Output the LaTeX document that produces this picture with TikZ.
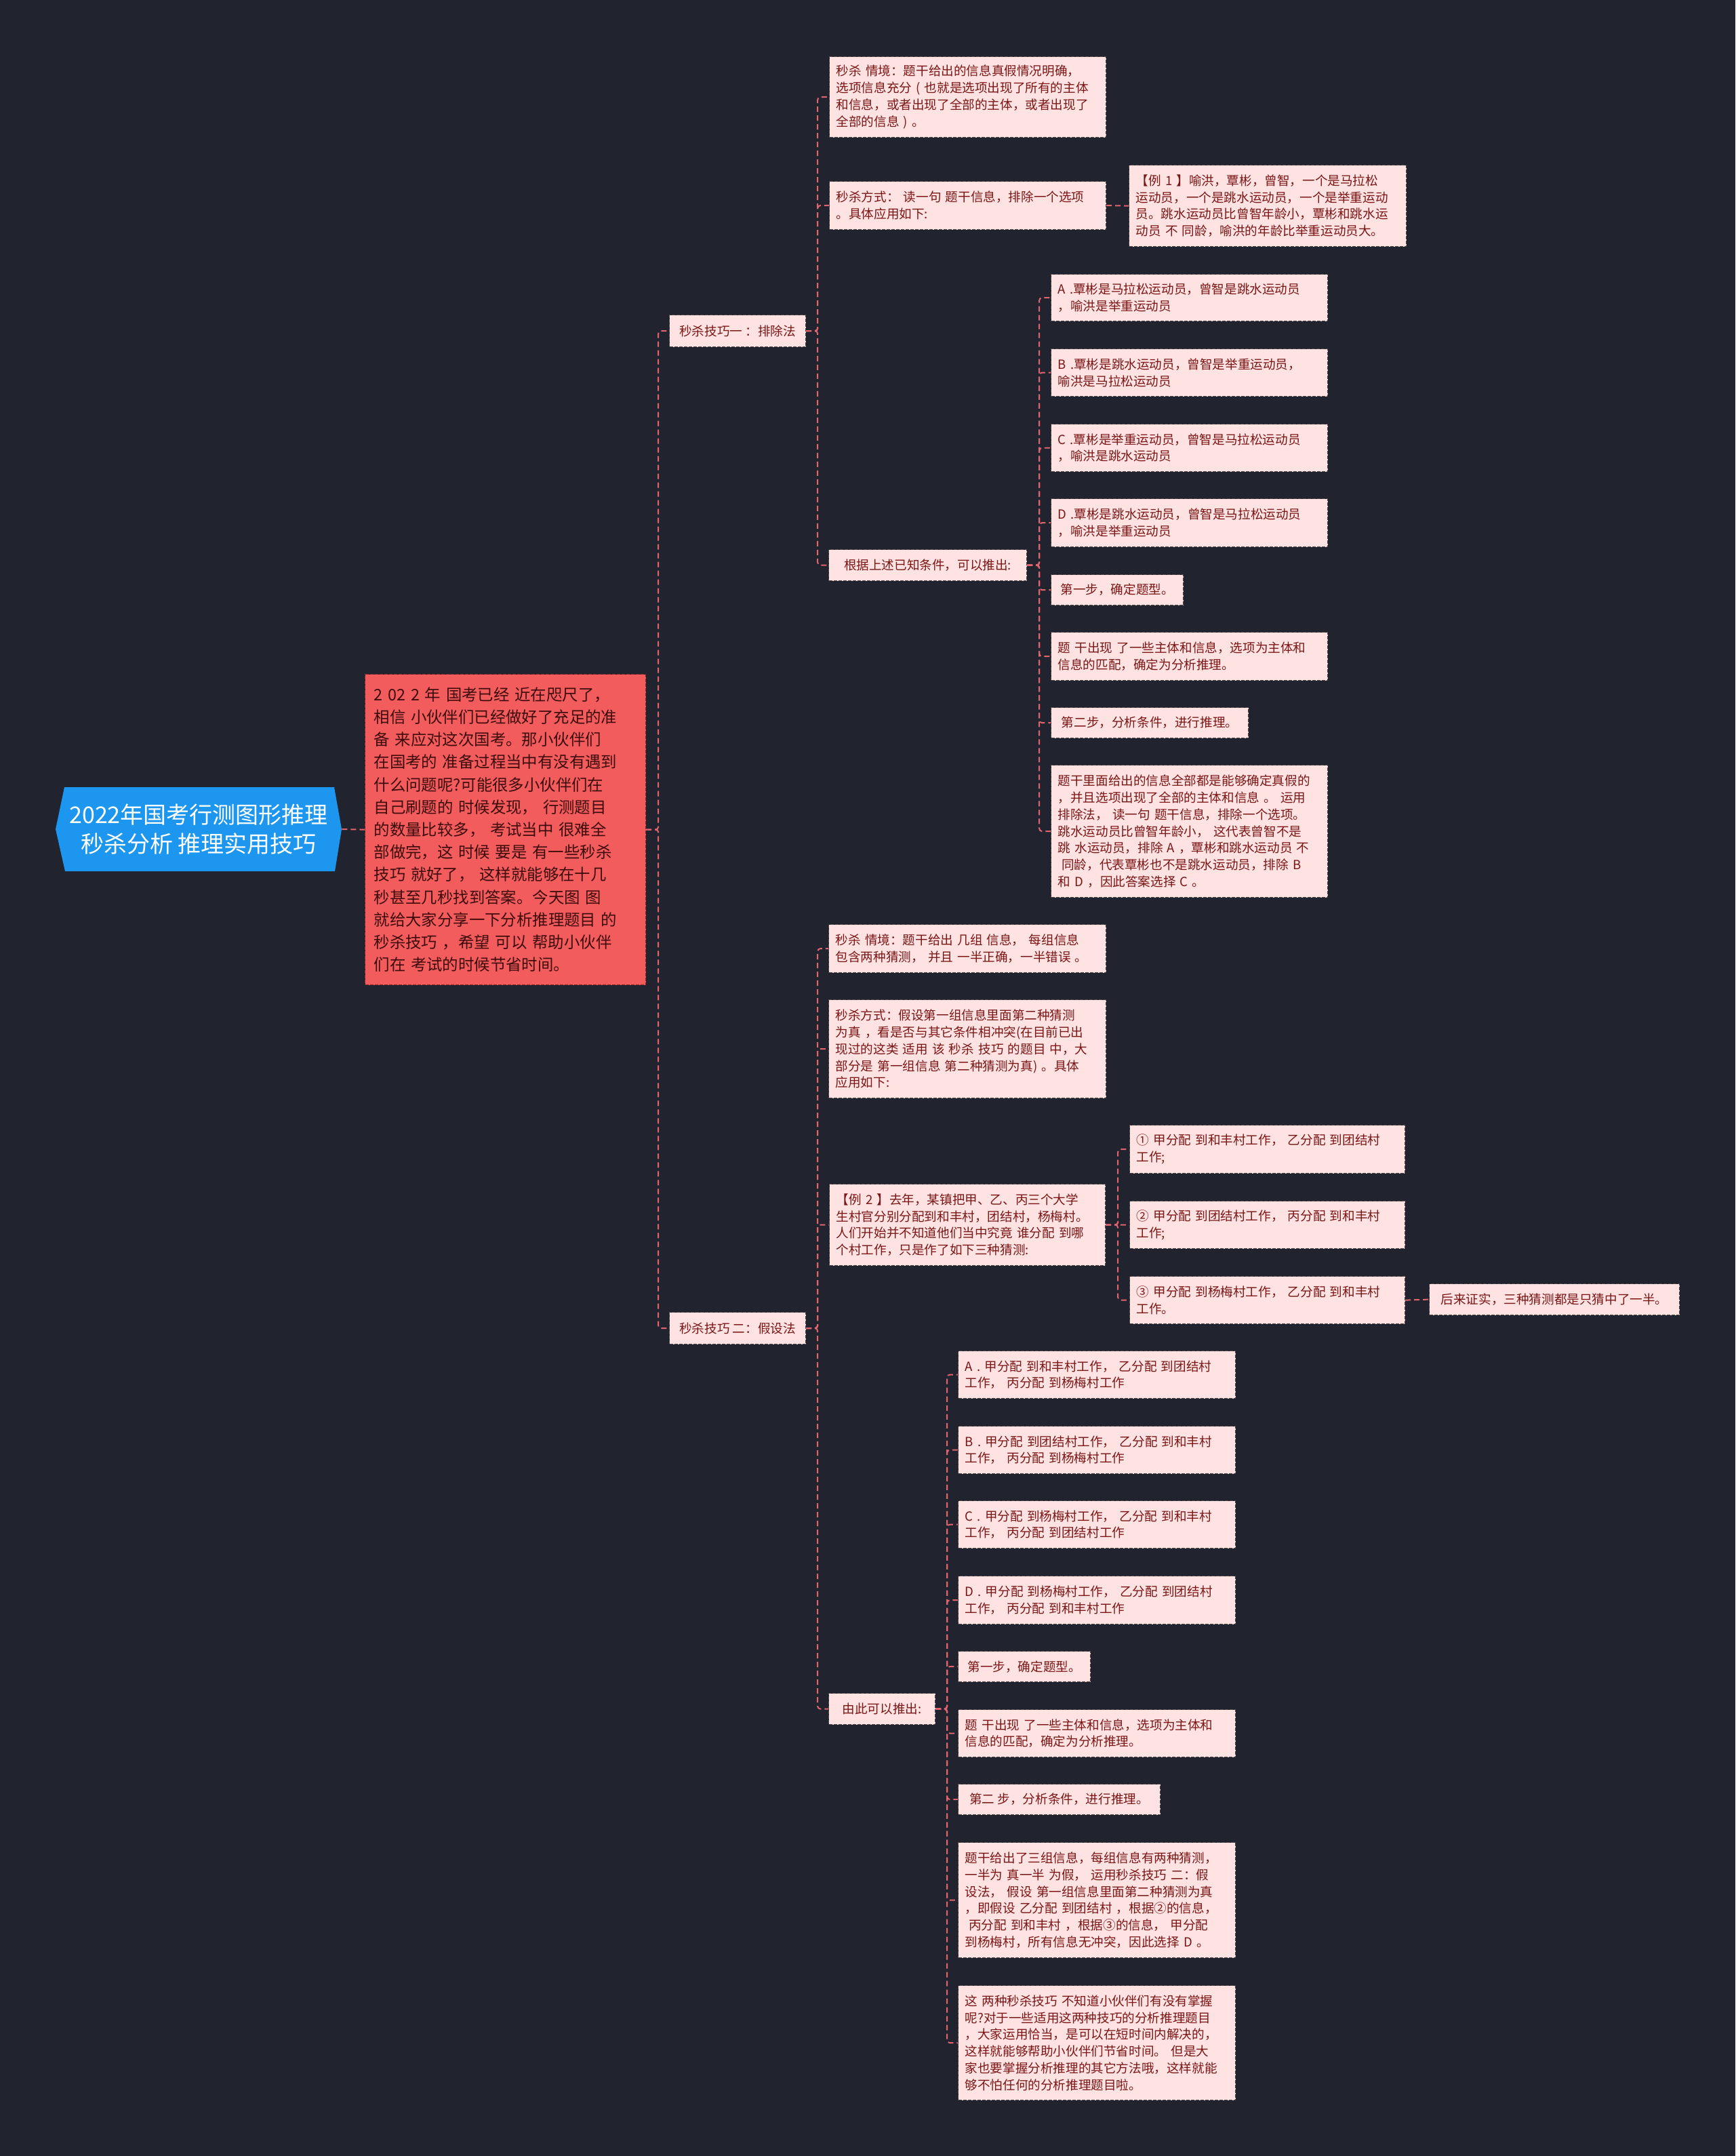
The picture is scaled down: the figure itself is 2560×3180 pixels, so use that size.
\documentclass[tikz,border=0pt]{standalone}
\usepackage{fontspec}
\setmainfont{Noto Sans CJK SC}
\definecolor{bg}{HTML}{21242F}
\definecolor{leaffill}{HTML}{FFE3E3}
\definecolor{leaftext}{HTML}{7A1616}
\definecolor{leafline}{HTML}{4E4646}
\definecolor{redfill}{HTML}{F25C5C}
\definecolor{redtext}{HTML}{3D0B0B}
\definecolor{redline}{HTML}{8A2A2A}
\definecolor{rootblue}{HTML}{1C96EE}
\definecolor{linkc}{HTML}{E2646E}
\begin{document}
\begin{tikzpicture}[x=0.5pt,y=-0.5pt,
  leaf/.style={rectangle, draw=leafline, line width=0.6pt, dash pattern=on 2.5pt off 1pt,
    fill=leaffill, text=leaftext, font=\fontsize{9.3pt}{12.4pt}\selectfont, align=left,
    inner xsep=5pt, inner ysep=1pt, anchor=north west},
  redbox/.style={rectangle, draw=redline, line width=0.6pt, dash pattern=on 2.5pt off 1pt,
    fill=redfill, text=redtext, font=\fontsize{11.7pt}{16.6pt}\selectfont, align=left,
    inner xsep=6.5pt, inner ysep=1pt, anchor=north west},
  rootnode/.style={rectangle, text=white, font=\fontsize{17pt}{21.5pt}\selectfont,
    align=center, minimum width=211pt, minimum height=62pt, inner sep=0pt},
  link/.style={draw=linkc, line width=1pt, dash pattern=on 4pt off 2.5pt, rounded corners=2pt}
]
\useasboundingbox (0,0) rectangle (2560,3180);
\fill[bg] (0,0) rectangle (2560,3180);

% root
\fill[rootblue] (95,1161) -- (493,1161) -- (504,1223) -- (494,1285) -- (96,1285) -- (82,1223) -- cycle;
\node[rootnode] (root) at (293,1223) {2022年国考行测图形推理\\秒杀分析 推理实用技巧};

% intro
\node[redbox, text width=194pt, minimum height=229pt] (red) at (538,994)
{2 02 2 年 国考已经 近在咫尺了，\\相信 小伙伴们已经做好了充足的准\\备 来应对这次国考。那小伙伴们\\在国考的 准备过程当中有没有遇到\\什么问题呢?可能很多小伙伴们在\\自己刷题的 时候发现， 行测题目\\的数量比较多， 考试当中 很难全\\部做完，这 时候 要是 有一些秒杀\\技巧 就好了， 这样就能够在十几\\秒甚至几秒找到答案。今天图 图\\就给大家分享一下分析推理题目 的\\秒杀技巧 ，希望 可以 帮助小伙伴\\们在 考试的时候节省时间。};

% branches
\node[leaf, minimum width=100.5pt, minimum height=23.5pt] (b1) at (987,464) {秒杀技巧一 ：排除法};
\node[leaf, minimum width=100.5pt, minimum height=23.5pt] (b2) at (987,1935) {秒杀技巧 二：假设法};

% ---- section 1
\node[leaf, text width=194pt, minimum height=59.5pt] (s1a) at (1223,83)
{秒杀 情境：题干给出的信息真假情况明确，\\选项信息充分 ( 也就是选项出现了所有的主体\\和信息，或者出现了全部的主体，或者出现了\\全部的信息 ) 。};
\node[leaf, text width=194pt, minimum height=35.5pt] (s1b) at (1223,267)
{秒杀方式： 读一句 题干信息，排除一个选项\\。具体应用如下:};
\node[leaf, text width=194.5pt, minimum height=60pt] (ex1) at (1665,243)
{【例 1 】喻洪，覃彬，曾智，一个是马拉松\\运动员，一个是跳水运动员，一个是举重运动\\员。跳水运动员比曾智年龄小，覃彬和跳水运\\动员 不 同龄，喻洪的年龄比举重运动员大。};
\node[leaf, minimum width=146pt, minimum height=23pt] (s1c) at (1222,810) {根据上述已知条件，可以推出:};

\node[leaf, text width=194pt, minimum height=34.5pt] (oa) at (1550,404)
{A .覃彬是马拉松运动员，曾智是跳水运动员\\，喻洪是举重运动员};
\node[leaf, text width=194pt, minimum height=35pt] (ob) at (1550,514)
{B .覃彬是跳水运动员，曾智是举重运动员，\\喻洪是马拉松运动员};
\node[leaf, text width=194pt, minimum height=35pt] (oc) at (1550,625)
{C .覃彬是举重运动员，曾智是马拉松运动员\\，喻洪是跳水运动员};
\node[leaf, text width=194pt, minimum height=35.5pt] (od) at (1550,735)
{D .覃彬是跳水运动员，曾智是马拉松运动员\\，喻洪是举重运动员};
\node[leaf, minimum width=97.5pt, minimum height=22.5pt] (st1) at (1550,847) {第一步，确定题型。};
\node[leaf, text width=194pt, minimum height=35.5pt] (tx1) at (1550,932)
{题 干出现 了一些主体和信息，选项为主体和\\信息的匹配，确定为分析推理。};
\node[leaf, minimum width=145.5pt, minimum height=22.5pt] (st2) at (1550,1043) {第二步，分析条件，进行推理。};
\node[leaf, text width=194pt, minimum height=97.5pt] (tx2) at (1550,1128)
{题干里面给出的信息全部都是能够确定真假的\\，并且选项出现了全部的主体和信息 。 运用\\排除法， 读一句 题干信息，排除一个选项。\\跳水运动员比曾智年龄小， 这代表曾智不是\\跳 水运动员，排除 A ，覃彬和跳水运动员 不\\\hspace*{0.3em}同龄，代表覃彬也不是跳水运动员，排除 B\\和 D ，因此答案选择 C 。};

% ---- section 2
\node[leaf, text width=194.5pt, minimum height=35.5pt] (s2a) at (1222,1363)
{秒杀 情境：题干给出 几组 信息， 每组信息\\包含两种猜测， 并且 一半正确，一半错误 。};
\node[leaf, text width=194.5pt, minimum height=72.5pt] (s2b) at (1222,1474)
{秒杀方式：假设第一组信息里面第二种猜测\\为真 ，看是否与其它条件相冲突(在目前已出\\现过的这类 适用 该 秒杀 技巧 的题目 中，大\\部分是 第一组信息 第二种猜测为真) 。具体\\应用如下:};
\node[leaf, text width=193.5pt, minimum height=60pt] (ex2) at (1223,1746)
{【例 2 】去年，某镇把甲、乙、丙三个大学\\生村官分别分配到和丰村，团结村，杨梅村。\\人们开始并不知道他们当中究竟 谁分配 到哪\\个村工作，只是作了如下三种猜测:};
\node[leaf, text width=193pt, minimum height=35.5pt] (g1) at (1666,1659)
{① 甲分配 到和丰村工作， 乙分配 到团结村\\工作;};
\node[leaf, text width=193pt, minimum height=35pt] (g2) at (1666,1771)
{② 甲分配 到团结村工作， 丙分配 到和丰村\\工作;};
\node[leaf, text width=193pt, minimum height=35pt] (g3) at (1666,1882)
{③ 甲分配 到杨梅村工作， 乙分配 到和丰村\\工作。};
\node[leaf, minimum width=184.5pt, minimum height=23pt] (later) at (2108,1893) {后来证实，三种猜测都是只猜中了一半。};
\node[leaf, minimum width=78.5pt, minimum height=23pt] (s2c) at (1222,2497) {由此可以推出:};

\node[leaf, text width=194.5pt, minimum height=35pt] (pa) at (1413,1992)
{A . 甲分配 到和丰村工作， 乙分配 到团结村\\工作， 丙分配 到杨梅村工作};
\node[leaf, text width=194.5pt, minimum height=35pt] (pb) at (1413,2103)
{B . 甲分配 到团结村工作， 乙分配 到和丰村\\工作， 丙分配 到杨梅村工作};
\node[leaf, text width=194.5pt, minimum height=35pt] (pc) at (1413,2213)
{C . 甲分配 到杨梅村工作， 乙分配 到和丰村\\工作， 丙分配 到团结村工作};
\node[leaf, text width=194.5pt, minimum height=35.5pt] (pd) at (1413,2324)
{D . 甲分配 到杨梅村工作， 乙分配 到团结村\\工作， 丙分配 到和丰村工作};
\node[leaf, minimum width=97.5pt, minimum height=22.5pt] (st3) at (1413,2435) {第一步，确定题型。};
\node[leaf, text width=194.5pt, minimum height=35pt] (tx3) at (1413,2521)
{题 干出现 了一些主体和信息，选项为主体和\\信息的匹配，确定为分析推理。};
\node[leaf, minimum width=149pt, minimum height=22.5pt] (st4) at (1413,2631) {第二 步，分析条件，进行推理。};
\node[leaf, text width=194.5pt, minimum height=85pt] (tx4) at (1413,2717)
{题干给出了三组信息，每组信息有两种猜测，\\一半为 真一半 为假， 运用秒杀技巧 二：假\\设法， 假设 第一组信息里面第二种猜测为真\\，即假设 乙分配 到团结村 ，根据②的信息，\\\hspace*{0.3em}丙分配 到和丰村 ，根据③的信息， 甲分配\\到杨梅村，所有信息无冲突，因此选择 D 。};
\node[leaf, text width=194.5pt, minimum height=84.5pt] (tx5) at (1413,2928)
{这 两种秒杀技巧 不知道小伙伴们有没有掌握\\呢?对于一些适用这两种技巧的分析推理题目\\，大家运用恰当，是可以在短时间内解决的，\\这样就能够帮助小伙伴们节省时间。 但是大\\家也要掌握分析推理的其它方法哦，这样就能\\够不怕任何的分析推理题目啦。};

% ---- connectors
\draw[link] (root.east) -- (red.west);
\foreach \c in {b1,b2} \draw[link] (red.east) -- ++(18,0) |- (\c.west);
\foreach \c in {s1a,s1b,s1c} \draw[link] (b1.east) -- ++(17,0) |- (\c.west);
\draw[link] (s1b.east) -- (ex1.west);
\foreach \c in {oa,ob,oc,od,st1,tx1,st2,tx2} \draw[link] (s1c.east) -- ++(18,0) |- (\c.west);
\foreach \c in {s2a,s2b,ex2,s2c} \draw[link] (b2.east) -- ++(17,0) |- (\c.west);
\foreach \c in {g1,g2,g3} \draw[link] (ex2.east) -- ++(18,0) |- (\c.west);
\draw[link] (g3.east) -- (later.west);
\foreach \c in {pa,pb,pc,pd,st3,tx3,st4,tx4,tx5} \draw[link] (s2c.east) -- ++(17,0) |- (\c.west);
\end{tikzpicture}
\end{document}
